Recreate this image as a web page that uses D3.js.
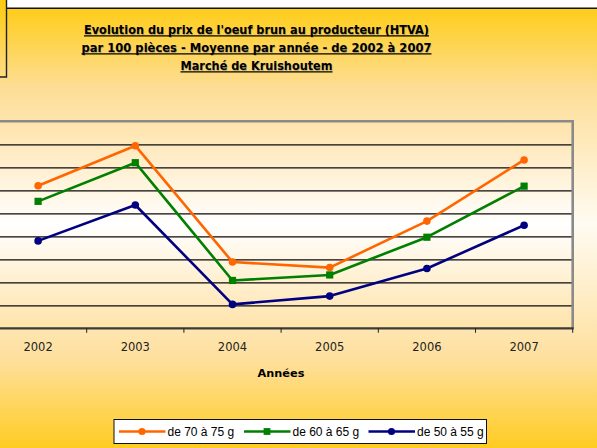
<!DOCTYPE html>
<html><head><meta charset="utf-8">
<script src="https://cdn.jsdelivr.net/npm/d3@7/dist/d3.min.js"></script>
<style>html,body{margin:0;padding:0;overflow:hidden;background:#fff}svg{display:block}</style>
</head><body>
<script>
const years = ["2002", "2003", "2004", "2005", "2006", "2007"];
const s7075 = [7.10, 7.97, 5.44, 5.32, 6.33, 7.66];
const s6065 = [6.76, 7.60, 5.04, 5.16, 5.98, 7.09];
const s5055 = [5.90, 6.68, 4.52, 4.70, 5.30, 6.24];
const seriesNames = ["de 70 à 75 g", "de 60 à 65 g", "de 50 à 55 g"];
const yTicks = [4, 4.5, 5, 5.5, 6, 6.5, 7, 7.5, 8, 8.5];
const titleLines = [
  "Evolution du prix de l'oeuf brun au producteur (HTVA)",
  "par 100 pièces - Moyenne par année - de 2002 à 2007",
  "Marché de Kruishoutem"
];
const xTitle = "Années";

(function () {
const series = [
  {name: seriesNames[0], values: s7075, color: "#FF6600", marker: "circle"},
  {name: seriesNames[1], values: s6065, color: "#008000", marker: "square"},
  {name: seriesNames[2], values: s5055, color: "#000080", marker: "circle"}
];

const W = 597, H = 448;
const svg = d3.select("body").append("svg").attr("width", W).attr("height", H);
const defs = svg.append("defs");

const bg = defs.append("linearGradient").attr("id", "bg").attr("x1", 0).attr("y1", 0).attr("x2", 0).attr("y2", 1);
[[0, "#FFCB0C"], [0.2, "#FDDE98"], [0.5, "#FFFBF2"], [0.8, "#FEE09E"], [1, "#FFCC22"]]
  .forEach(s => bg.append("stop").attr("offset", s[0]).attr("stop-color", s[1]));
const pg = defs.append("linearGradient").attr("id", "pg").attr("x1", 0).attr("y1", 0).attr("x2", 0).attr("y2", 1);
[[0, "#FFE3AA"], [0.5, "#FFFFFF"], [1, "#FFE3AA"]]
  .forEach(s => pg.append("stop").attr("offset", s[0]).attr("stop-color", s[1]));

// background
svg.append("rect").attr("x", 0).attr("y", 0).attr("width", W).attr("height", H).attr("fill", "url(#bg)");
// top white strip and line
svg.append("rect").attr("x", 6.5).attr("y", 0).attr("width", W).attr("height", 8).attr("fill", "#fff");
svg.append("line").attr("x1", 6).attr("x2", W).attr("y1", 8.2).attr("y2", 8.2).attr("stroke", "#111").attr("stroke-width", 1.4);
// top-left partial box
svg.append("path").attr("d", "M0,77 L6.5,77 L6.5,0").attr("fill", "none").attr("stroke", "#222").attr("stroke-width", 1.4);

// title
const title = svg.append("g").attr("font-family", "'DejaVu Sans', Verdana, sans-serif")
  .attr("font-weight", "bold").attr("font-size", 11.6).attr("fill", "#000");
const tl = [{y: 34, w: 345}, {y: 52, w: 350}, {y: 70, w: 152}];
titleLines.forEach((t, i) => {
  title.append("text").attr("x", 257).attr("y", tl[i].y + 0.6).attr("text-anchor", "middle")
    .attr("fill", "#777").attr("opacity", 0.5)
    .attr("textLength", tl[i].w).attr("lengthAdjust", "spacingAndGlyphs").text(t);
  title.append("text").attr("x", 256.5).attr("y", tl[i].y).attr("text-anchor", "middle")
    .attr("textLength", tl[i].w).attr("lengthAdjust", "spacingAndGlyphs").text(t);
  title.append("line").attr("x1", 256.5 - tl[i].w / 2).attr("x2", 256.5 + tl[i].w / 2)
    .attr("y1", tl[i].y + 1.8).attr("y2", tl[i].y + 1.8).attr("stroke", "#000").attr("stroke-width", 1.2);
});

// scales
const pL = -10.5, pR = 572.7, pT = 121.3, pB = 328.3;
const x = d3.scaleBand().domain(years).range([pL, pR]).padding(0);
const y = d3.scaleLinear().domain([yTicks[0], yTicks[yTicks.length - 1]]).range([pB, pT]);
const cx = d => x(d) + x.bandwidth() / 2;

// plot area
svg.append("rect").attr("x", pL).attr("y", pT).attr("width", pR - pL).attr("height", pB - pT)
  .attr("fill", "url(#pg)");

// gridlines
svg.append("g").attr("transform", `translate(${pL},0)`)
  .call(d3.axisLeft(y).tickValues(yTicks.slice(1, -1)).tickSize(-(pR - pL)).tickFormat(""))
  .call(g => g.select(".domain").remove())
  .call(g => g.selectAll(".tick line").attr("stroke", "#0a0a0a").attr("stroke-width", 1.2));

// plot border (top/right gray)
svg.append("path").attr("d", `M${pL},${pT} L${pR},${pT} L${pR},${pB}`)
  .attr("fill", "none").attr("stroke", "#8a8a8a").attr("stroke-width", 2.6);

// x axis
const xa = svg.append("g").attr("transform", `translate(0,${pB})`)
  .call(d3.axisBottom(x).tickSize(0).tickPadding(0))
  .call(g => g.select(".domain").remove());
xa.selectAll(".tick text").attr("font-family", "'DejaVu Sans', Verdana, sans-serif")
  .attr("font-size", 11.5).attr("fill", "#222").attr("dy", null).attr("y", 23);
svg.append("line").attr("x1", pL).attr("x2", pR + 1).attr("y1", pB).attr("y2", pB)
  .attr("stroke", "#3a3a3a").attr("stroke-width", 2.2);
svg.append("g").selectAll("line").data(years).join("line")
  .attr("x1", d => x(d) + x.bandwidth()).attr("x2", d => x(d) + x.bandwidth())
  .attr("y1", pB).attr("y2", pB + 4.5).attr("stroke", "#222").attr("stroke-width", 1);

svg.append("text").attr("x", 281).attr("y", 377).attr("text-anchor", "middle")
  .attr("font-family", "'DejaVu Sans', Verdana, sans-serif").attr("font-weight", "bold")
  .attr("font-size", 11.3).attr("fill", "#000").text(xTitle);

// series
const line = d3.line().x((v, i) => cx(years[i])).y(v => y(v));
series.forEach(s => {
  const g = svg.append("g");
  g.append("path").datum(s.values).attr("d", line).attr("fill", "none")
    .attr("stroke", s.color).attr("stroke-width", 2.6).attr("stroke-linejoin", "round");
  if (s.marker === "circle") {
    g.selectAll("circle").data(s.values).join("circle")
      .attr("cx", (v, i) => cx(years[i])).attr("cy", v => y(v)).attr("r", 3.8).attr("fill", s.color);
  } else {
    g.selectAll("rect").data(s.values).join("rect")
      .attr("x", (v, i) => cx(years[i]) - 3.6).attr("y", v => y(v) - 3.6)
      .attr("width", 7.2).attr("height", 7.2).attr("fill", s.color);
  }
});

// legend
const lg = svg.append("g");
lg.append("rect").attr("x", 114).attr("y", 419.5).attr("width", 372.5).attr("height", 24)
  .attr("fill", "#fff").attr("stroke", "#111").attr("stroke-width", 1);
const lx = [119, 244, 368.5];
series.forEach((s, i) => {
  const g = lg.append("g").attr("transform", `translate(${lx[i]},431.5)`);
  g.append("line").attr("x1", 0).attr("x2", 46.5).attr("y1", 0).attr("y2", 0)
    .attr("stroke", s.color).attr("stroke-width", 2.6);
  if (s.marker === "circle") g.append("circle").attr("cx", 23).attr("cy", 0).attr("r", 3.6).attr("fill", s.color);
  else g.append("rect").attr("x", 19.6).attr("y", -3.4).attr("width", 6.8).attr("height", 6.8).attr("fill", s.color);
  g.append("text").attr("x", 48.5).attr("y", 4.3)
    .attr("font-family", "'Liberation Sans', Arial, sans-serif").attr("font-size", 12)
    .attr("fill", "#000").text(s.name);
});
})();
</script>
</body></html>
